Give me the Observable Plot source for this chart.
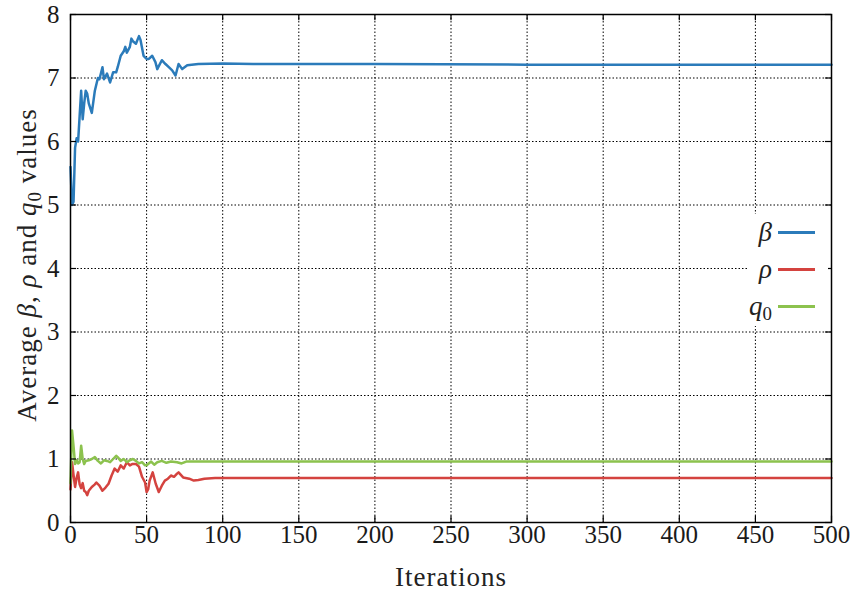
<!DOCTYPE html>
<html>
<head>
<meta charset="utf-8">
<script src="https://cdn.jsdelivr.net/npm/d3@7"></script>
<script src="https://cdn.jsdelivr.net/npm/@observablehq/plot@0.6"></script>
<style>
  html, body { margin: 0; padding: 0; background: white; }
  #wrap { position: relative; width: 854px; height: 594px; font-family: "Liberation Serif", "DejaVu Serif", serif; color: #222; }
  #wrap svg { position: absolute; left: 0; top: 0; }
  .ylab { position: absolute; left: 29px; top: 265px; transform: translate(-50%, -50%) rotate(-90deg); font-size: 27px; letter-spacing: 1px; white-space: nowrap; }
  .xlab { position: absolute; left: 451px; top: 577px; transform: translate(-50%, -50%); font-size: 27px; letter-spacing: 1px; white-space: nowrap; }
  .legend { position: absolute; left: 748px; top: 214px; width: 80px; height: 112px; background: white; }
  .legend .row { position: absolute; left: 0; width: 80px; height: 30px; }
  .legend .lbl { position: absolute; right: 56px; top: 0; font-style: italic; font-size: 27px; line-height: 30px; }
  .legend .sw { position: absolute; left: 30px; top: 14px; width: 37px; height: 3px; }
  sub { font-size: 0.7em; font-style: normal; vertical-align: -0.25em; }
</style>
</head>
<body>
<div id="wrap"></div>
<script>
const xTicks = [0, 50, 100, 150, 200, 250, 300, 350, 400, 450, 500];
const yTicks = [0, 1, 2, 3, 4, 5, 6, 7, 8];

const seriesNames = ["β", "ρ", "q0"];
const seriesColors = ["#2b7bba", "#d4433f", "#8cc24e"];

const betaIter = [0, 1, 2, 3, 4, 5, 6, 7, 8, 9, 10, 11, 12, 14, 16, 18, 19, 21, 22, 24, 26, 28, 30, 31, 33, 35, 36, 37, 39, 40, 41, 43, 45, 46, 48, 50, 51.5, 53.7, 55.8, 57, 60, 62.4, 64.6, 66.8, 69, 71, 73.4, 76.7, 84, 100, 120, 200, 300, 500];
const betaVal  = [5.6, 5.0, 5.05, 5.9, 6.05, 6.0, 6.4, 6.8, 6.35, 6.6, 6.8, 6.75, 6.6, 6.45, 6.8, 7.0, 6.98, 7.17, 6.98, 7.07, 6.93, 7.09, 7.09, 7.17, 7.35, 7.42, 7.49, 7.4, 7.49, 7.62, 7.58, 7.54, 7.66, 7.6, 7.35, 7.3, 7.30, 7.35, 7.25, 7.14, 7.28, 7.22, 7.17, 7.12, 7.04, 7.22, 7.14, 7.2, 7.22, 7.23, 7.22, 7.22, 7.21, 7.21];

const rhoIter = [0, 1, 2, 3, 4, 5, 6, 7, 8, 9, 10, 11, 12, 14, 16, 17, 19, 21, 23, 25, 27, 29, 31, 33, 35, 37, 39, 40.5, 43, 45, 47, 49, 50, 51, 52, 54, 56, 58, 60, 62, 64, 66, 68, 70, 71, 74, 78, 81, 84, 88, 95, 150, 500];
const rhoVal  = [0.52, 0.95, 0.75, 0.56, 0.7, 0.79, 0.6, 0.54, 0.62, 0.5, 0.48, 0.43, 0.5, 0.56, 0.6, 0.63, 0.58, 0.5, 0.55, 0.61, 0.74, 0.85, 0.8, 0.9, 0.85, 0.95, 0.9, 0.92, 0.92, 0.88, 0.72, 0.63, 0.48, 0.52, 0.66, 0.79, 0.61, 0.48, 0.58, 0.66, 0.69, 0.74, 0.72, 0.77, 0.79, 0.71, 0.69, 0.66, 0.67, 0.69, 0.7, 0.7, 0.7];

const q0Iter = [0, 1, 2, 3, 4, 5, 6, 7, 8, 9, 10, 12, 14, 16, 18, 20, 22, 24, 26, 28, 30, 31, 33, 35, 37, 39, 41, 43, 45, 47, 49, 50, 51, 53, 55, 57, 60, 63, 66, 70, 73, 76, 80, 90, 150, 500];
const q0Val  = [0.62, 1.45, 1.2, 0.92, 0.98, 0.93, 0.95, 1.21, 1.0, 0.92, 0.97, 0.98, 1.0, 1.03, 0.97, 0.93, 0.98, 0.97, 0.95, 1.0, 1.05, 1.03, 0.97, 1.0, 0.95, 0.98, 1.0, 0.97, 0.93, 0.95, 0.9, 0.9, 0.92, 0.96, 0.91, 0.95, 0.97, 0.94, 0.96, 0.95, 0.93, 0.96, 0.96, 0.96, 0.96, 0.96];

const toRows = (xs, ys) => xs.map((x, i) => ({x, y: ys[i]}));
const series = [toRows(betaIter, betaVal), toRows(rhoIter, rhoVal), toRows(q0Iter, q0Val)];

const serif = "'Liberation Serif', 'DejaVu Serif', serif";
const gridStyle = {stroke: "black", strokeOpacity: 1, strokeWidth: 1, strokeDasharray: "1.5,2"};

const chart = Plot.plot({
  width: 854,
  height: 594,
  marginLeft: 70,
  marginRight: 23,
  marginTop: 14,
  marginBottom: 72,
  style: {fontFamily: serif, fontSize: "25px", color: "#1a1a1a", background: "transparent"},
  x: {domain: [0, 500], label: null},
  y: {domain: [0, 8], label: null},
  marks: [
    Plot.gridX(xTicks, gridStyle),
    Plot.gridY(yTicks, gridStyle),
    ...series.map((d, i) => Plot.line(d, {x: "x", y: "y", stroke: seriesColors[i], strokeWidth: 2.5, strokeLinejoin: "round"})),
    Plot.ruleX(xTicks, {x: d => d, y1: 0, y2: 0.1, stroke: "black", strokeWidth: 1.2}),
    Plot.ruleX(xTicks, {x: d => d, y1: 8, y2: 7.9, stroke: "black", strokeWidth: 1.2}),
    Plot.ruleY(yTicks, {y: d => d, x1: 0, x2: 4, stroke: "black", strokeWidth: 1.2}),
    Plot.ruleY(yTicks, {y: d => d, x1: 500, x2: 496, stroke: "black", strokeWidth: 1.2}),
    Plot.frame({stroke: "black", strokeWidth: 1.5}),
    Plot.axisX(xTicks, {tickSize: 0, tickPadding: 3, tickFormat: d => String(d), label: null, fontFamily: serif}),
    Plot.axisY(yTicks, {tickSize: 0, tickPadding: 11, tickFormat: d => String(d), label: null, fontFamily: serif})
  ]
});

const wrap = document.getElementById("wrap");
wrap.appendChild(chart);

const ylab = document.createElement("div");
ylab.className = "ylab";
ylab.innerHTML = "Average <i>β</i>, <i>ρ</i> and <i>q</i><sub>0</sub> values";
wrap.appendChild(ylab);

const xlab = document.createElement("div");
xlab.className = "xlab";
xlab.textContent = "Iterations";
wrap.appendChild(xlab);

const legend = document.createElement("div");
legend.className = "legend";
const labelsHtml = ["β", "ρ", "q<sub>0</sub>"];
seriesNames.forEach((name, i) => {
  const row = document.createElement("div");
  row.className = "row";
  row.style.top = (3 + i * 37) + "px";
  row.innerHTML = `<span class="lbl">${labelsHtml[i]}</span><span class="sw" style="background:${seriesColors[i]}"></span>`;
  legend.appendChild(row);
});
wrap.appendChild(legend);
</script>
</body>
</html>
